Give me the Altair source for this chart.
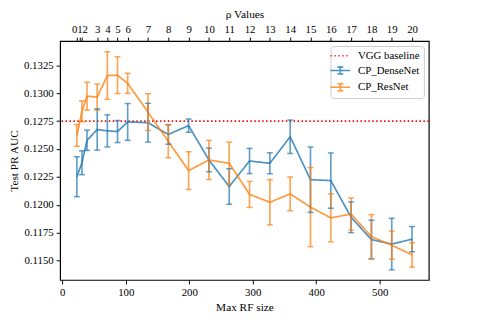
import altair as alt
import pandas as pd

# ---- data ----
rf_size = [23, 31, 39, 55, 71, 87, 103, 135, 167, 199, 231, 263, 295, 327, 359, 391, 423, 455, 487, 519, 551]
dense_mean = [0.12252, 0.12377, 0.12578, 0.12675, 0.12663, 0.12657, 0.12743, 0.12736, 0.12631, 0.12710,
              0.12402, 0.12164, 0.12393, 0.12372, 0.12610, 0.12225, 0.12217, 0.11888, 0.11688, 0.11648, 0.11692]
dense_err = [0.00179, 0.00107, 0.00091, 0.00185, 0.00144, 0.00099, 0.00165, 0.00174, 0.00088, 0.00059,
             0.00106, 0.00159, 0.00113, 0.00094, 0.00150, 0.00293, 0.00248, 0.00138, 0.00174, 0.00231, 0.00113]
resnet_mean = [0.12622, 0.12838, 0.12974, 0.12965, 0.13159, 0.13162, 0.13089, 0.12831, 0.12569, 0.12306,
               0.12402, 0.12372, 0.12093, 0.12023, 0.12098, 0.11979, 0.11883, 0.11917, 0.11714, 0.11638, 0.11551]
resnet_err = [0.00097, 0.00093, 0.00125, 0.00117, 0.00213, 0.00165, 0.00090, 0.00165, 0.00147, 0.00169,
              0.00176, 0.00191, 0.00117, 0.00203, 0.00152, 0.00355, 0.00216, 0.00145, 0.00198, 0.00126, 0.00110]
rho_values = list(range(21))
rho_rf = [23, 27, 31, 55, 71, 87, 103, 135, 167, 199, 231, 263, 295, 327, 359, 391, 423, 455, 487, 519, 551]
vgg_baseline = 0.1275
series_names = ["VGG baseline", "CP_DenseNet", "CP_ResNet"]
series_colors = ["red", "#1f77b4", "#ff7f0e"]
x_ticks = [0, 100, 200, 300, 400, 500]
y_ticks = [0.115, 0.1175, 0.12, 0.1225, 0.125, 0.1275, 0.13, 0.1325]

rows = []
for name, m, e in [("CP_DenseNet", dense_mean, dense_err), ("CP_ResNet", resnet_mean, resnet_err)]:
    for x, mv, ev in zip(rf_size, m, e):
        rows.append({"series": name, "rf": x, "mean": mv, "lo": mv - ev, "hi": mv + ev})
df = pd.DataFrame(rows)
base_df = pd.DataFrame({"series": ["VGG baseline"], "value": [vgg_baseline]})
leg_df = pd.DataFrame({"series": series_names})

FONT = "Liberation Serif"
xs = alt.Scale(domain=[-3.4, 577.4], nice=False, zero=False)
ys = alt.Scale(domain=[0.11326, 0.13468], nice=False, zero=False)
cs = alt.Scale(domain=series_names, range=series_colors)
ds = alt.Scale(domain=series_names, range=[[1.5, 2.5], [1, 0], [1, 0]])
eb = "M-2,0H2M0,-0.7V0.7M-0.6,-0.7H0.6M-0.6,0.7H0.6"
ss = alt.Scale(domain=series_names, range=["M-2,0H2", eb, eb])

legend = alt.Legend(title=None, orient="top-right", offset=5, fillColor="white",
                    strokeColor="#cccccc", cornerRadius=3, padding=4,
                    labelFont=FONT, labelFontSize=11, labelOffset=12,
                    symbolStrokeWidth=1.6, rowPadding=3, symbolSize=100)
color = alt.Color("series:N", scale=cs, legend=legend)
dash = alt.StrokeDash("series:N", scale=ds, legend=legend)

bottom_axis = alt.Axis(values=x_ticks, title="Max RF size", orient="bottom")
labexpr = "'' + indexof([%s], datum.value)" % ",".join(str(v) for v in rho_rf)
top_align = {
    "condition": [
        {"test": "datum.value == %d" % rho_rf[0], "value": "right"},
        {"test": "datum.value == %d" % rho_rf[2], "value": "left"},
    ],
    "value": "center",
}
top_axis = alt.Axis(values=rho_rf, title="ρ Values", orient="top", labelExpr=labexpr,
                    labelOverlap=False, labelAlign=top_align)
y_axis = alt.Axis(values=y_ticks, format=".4f", title="Test PR AUC", orient="left")

baseline = alt.Chart(base_df).mark_rule(strokeWidth=1.8).encode(
    y=alt.Y("value:Q", scale=ys, axis=y_axis), color=color, strokeDash=dash)

lines = alt.Chart(df).mark_line(strokeWidth=1.7, opacity=0.8).encode(
    x=alt.X("rf:Q", scale=xs, axis=bottom_axis),
    y=alt.Y("mean:Q", scale=ys, axis=None), color=color, strokeDash=dash, detail="series:N")

bars = alt.Chart(df).mark_rule(strokeWidth=1.7, opacity=0.7).encode(
    x=alt.X("rf:Q", scale=xs, axis=None),
    y=alt.Y("lo:Q", scale=ys, axis=None), y2="hi:Q", color=color)

caps_lo = alt.Chart(df).mark_tick(orient="horizontal", size=6, thickness=1.5, opacity=0.7).encode(
    x=alt.X("rf:Q", scale=xs, axis=None),
    y=alt.Y("lo:Q", scale=ys, axis=None), color=color)

caps_hi = alt.Chart(df).mark_tick(orient="horizontal", size=6, thickness=1.5, opacity=0.7).encode(
    x=alt.X("rf:Q", scale=xs, axis=top_axis),
    y=alt.Y("hi:Q", scale=ys, axis=None), color=color)

leg_pts = alt.Chart(leg_df).mark_point(filled=False, clip=True, strokeWidth=1.6).encode(
    x=alt.value(-200), y=alt.value(-200), color=color, strokeDash=dash,
    shape=alt.Shape("series:N", scale=ss, legend=legend))

chart = alt.layer(baseline, lines, bars, caps_lo, caps_hi, leg_pts).resolve_axis(
    x="independent", y="independent"
).properties(
    width=375, height=243,
    autosize=alt.AutoSizeParams(type="none"),
    padding={"left": 53, "top": 31, "right": 49, "bottom": 33},
).configure_view(stroke="black", strokeWidth=1.2).configure_axis(
    grid=False, domain=False, tickColor="black", tickSize=4, tickWidth=1,
    labelFont=FONT, labelFontSize=11, labelColor="black", titleFont=FONT,
    titleFontSize=11.5, titleFontWeight="normal", titleColor="black", labelPadding=3,
)

chart.save("out.html", embed_options={"renderer": "svg", "actions": False})
